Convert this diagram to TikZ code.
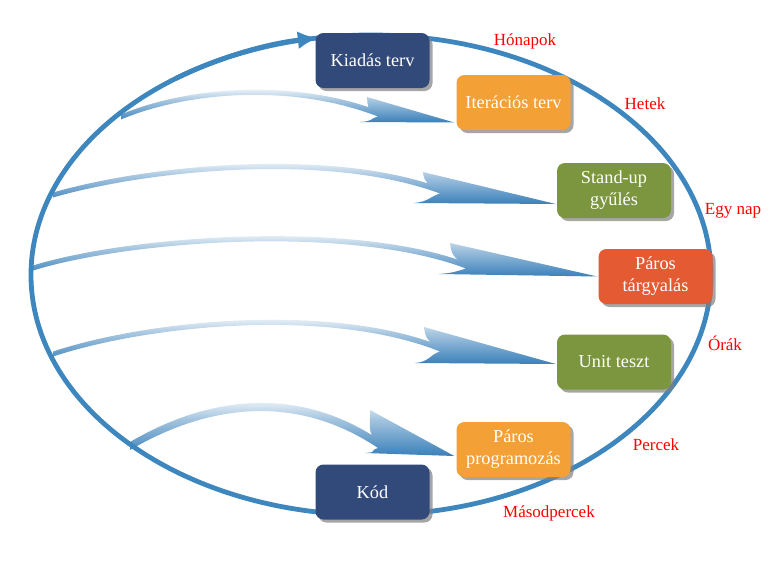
\documentclass[tikz,border=0pt]{standalone}
\usepackage{fontspec}
\setmainfont{Liberation Serif}
\usetikzlibrary{calc,shadows,arrows.meta,backgrounds}
\definecolor{gyurukek}{RGB}{62,134,190}
\definecolor{nyilkek}{RGB}{58,128,186}
\definecolor{sotetkek}{RGB}{49,74,121}
\definecolor{narancs}{RGB}{243,160,54}
\definecolor{zold}{RGB}{123,150,62}
\definecolor{tegla}{RGB}{228,91,51}
\pgfdeclareverticalshading{nyilfade}{100bp}{color(0bp)=(nyilkek); color(25bp)=(nyilkek); color(50bp)=(nyilkek!45!white); color(66bp)=(white); color(100bp)=(white)}
\tikzset{
	doboz/.style={rounded corners=8pt, minimum width=114pt, minimum height=55pt, align=center, text=white,
		font=\fontsize{18.3}{22}\selectfont, drop shadow={shadow xshift=3pt, shadow yshift=-3pt, opacity=0.7}},
	cimke/.style={text=red, font=\fontsize{17}{20}\selectfont},
	gyuru/.style={draw=gyurukek, line width=4.8pt},
	nyilszin/.style={shading=nyilfade}
}
% #1 start, #2 #3 controls, #4 notch, #5 barb top, #6 tip, #7 barb bottom, #8 half width
\newcommand{\nyil}[8]{%
	\shade[nyilszin] ($(#1)+(0,-#8)$) .. controls ($(#2)+(0,-#8)$) and ($(#3)+(0,-#8)$) .. ($(#4)+(0,-#8-1)$)
		.. controls ($(#4)+(-12,-#8-3)$) and ($(#5)+(1,10)$) .. (#5) -- (#6) -- (#7)
		.. controls ($(#7)+(14,-1)$) and ($(#4)+(-10,#8+3)$) .. ($(#4)+(0,#8)$)
		.. controls ($(#3)+(0,#8)$) and ($(#2)+(0,#8)$) .. ($(#1)+(0,#8)$) -- cycle;}
\begin{document}
\begin{tikzpicture}[x=1pt, y=-1pt]
	\pgfmathsetmacro{\rx}{340}
	\pgfmathsetmacro{\ry}{240}
	\useasboundingbox (0,0) rectangle (777,563);
	\coordinate (O) at (371,275);
	% dobozok
	\node[doboz, fill=sotetkek] (kiadas) at (372.5,60.5) {Kiadás terv};
	\node[doboz, fill=narancs] (iter) at (513.5,102.5) {Iterációs terv};
	\node[doboz, fill=zold] (standup) at (614,190.5) {Stand-up\\gyűlés};
	\node[doboz, fill=tegla] (targyalas) at (655.5,276.5) {Páros\\tárgyalás};
	\node[doboz, fill=zold] (unit) at (614,362) {Unit teszt};
	\node[doboz, fill=narancs] (paros) at (513.5,449.5) {Páros\\programozás};
	\node[doboz, fill=sotetkek] (kod) at (372.5,492) {Kód};
	% idotavok
	\node[cimke] (honapok) at (525,41) {Hónapok};
	\node[cimke] (hetek) at (645,104) {Hetek};
	\node[cimke] (egynap) at (733,211) {Egy nap};
	\node[cimke] (orak) at (725,343) {Órák};
	\node[cimke] (percek) at (656,445) {Percek};
	\node[cimke] (masodpercek) at (549,513) {Másodpercek};
	\begin{scope}[on background layer]
		\nyil{121,117}{185,90}{290,80}{378,114}{367,97}{$(iter.west)+(-2,20)$}{360,122}{2.5}
		\nyil{53,195}{150,167}{330,150}{440,191}{423,172}{$(standup.west)+(-1,13.5)$}{414,203}{2.5}
		\nyil{33,268}{130,238}{350,222}{466,266}{450,243}{$(targyalas.west)+(-1,0)$}{439,274}{2.5}
		\nyil{53,354}{150,322}{330,305}{440,349}{424,327}{$(unit.west)+(-1,2)$}{415,363}{2.5}
		\nyil{130,446}{200,405}{290,385}{378,444}{370,410}{$(paros.west)+(-2,6.5)$}{365,453}{4}
		\draw[gyuru] (O) ellipse [x radius=\rx, y radius=\ry];
		\draw[gyuru, -{Latex[length=20pt,width=18pt]}] (O) ++(235:340 and 240) arc[start angle=235, end angle=261, x radius=\rx, y radius=\ry];
	\end{scope}
\end{tikzpicture}
\end{document}
